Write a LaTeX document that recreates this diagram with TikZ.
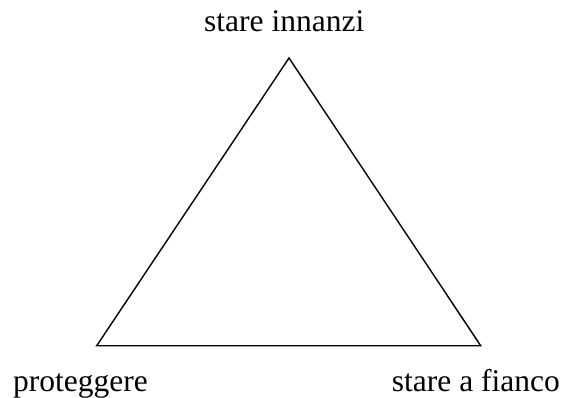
\documentclass[tikz,border=0pt]{standalone}
\usepackage{fontspec}
\setmainfont{Liberation Serif}
\begin{document}
\begin{tikzpicture}[x=1pt,y=-1pt,
  lbl/.style={inner sep=0pt,font=\fontsize{31.5}{36}\selectfont},
  edge/.style={draw=black,line width=1.4pt,line join=miter}]
\useasboundingbox (0,0) rectangle (561,398);
\coordinate (T) at (289,58);
\coordinate (L) at (96.7,345.7);
\coordinate (R) at (480.7,345.7);
\draw[edge] (T) -- (L) -- (R) -- cycle;
\node[lbl,anchor=base west] (top) at (204,32) {stare innanzi};
\node[lbl,anchor=base west] (left) at (13,391.5) {proteggere};
\node[lbl,anchor=base west] (right) at (391.7,391.5) {stare a fianco};
\end{tikzpicture}
\end{document}
